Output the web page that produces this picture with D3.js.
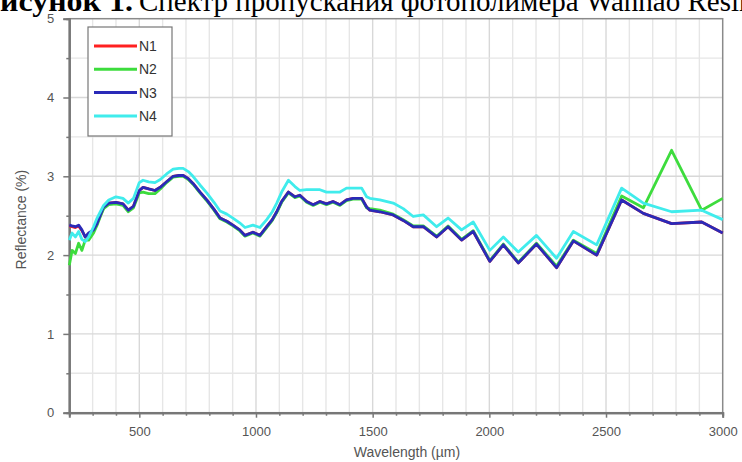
<!DOCTYPE html>
<html><head><meta charset="utf-8">
<script src="https://cdn.jsdelivr.net/npm/d3@7/dist/d3.min.js"></script>
<style>body{margin:0;background:#fff}svg{display:block}</style>
</head><body>
<svg id="c" width="742" height="462"></svg>
<script>
// ---- data ----
const wavelengths = [200,212,226,240,254,268,283,304,319,333,347,369,400,430,453,475,500,516,540,567,590,617,645,670,688,710,730,760,789,820,846,875,901,930,953,987,1017,1046,1070,1089,1110,1139,1167,1188,1217,1245,1274,1302,1330,1360,1388,1416,1453,1474,1488,1531,1588,1631,1674,1717,1774,1823,1881,1931,2002,2060,2124,2202,2288,2360,2460,2567,2660,2781,2910,3000];
const n3 = [2.38,2.37,2.36,2.38,2.32,2.23,2.28,2.32,2.40,2.51,2.61,2.66,2.67,2.65,2.57,2.62,2.82,2.86,2.84,2.82,2.86,2.93,3.00,3.01,3.01,2.97,2.91,2.80,2.70,2.58,2.47,2.43,2.38,2.32,2.25,2.29,2.25,2.36,2.45,2.55,2.68,2.80,2.74,2.76,2.68,2.64,2.68,2.65,2.68,2.64,2.70,2.72,2.72,2.61,2.57,2.55,2.51,2.44,2.36,2.36,2.23,2.36,2.19,2.30,1.92,2.13,1.90,2.14,1.84,2.18,2.00,2.70,2.53,2.40,2.42,2.28];
const n1 = [2.37,2.36,2.35,2.37,2.31,2.23,2.27,2.31,2.40,2.50,2.60,2.66,2.67,2.65,2.57,2.62,2.82,2.86,2.84,2.82,2.86,2.93,3.00,3.01,3.01,2.97,2.91,2.80,2.70,2.58,2.47,2.43,2.38,2.32,2.25,2.29,2.25,2.36,2.45,2.55,2.68,2.80,2.74,2.76,2.68,2.64,2.68,2.65,2.68,2.64,2.70,2.72,2.72,2.61,2.57,2.55,2.51,2.44,2.36,2.36,2.23,2.36,2.19,2.30,1.92,2.13,1.90,2.14,1.84,2.18,2.00,2.70,2.53,2.40,2.42,2.28];
const n2 = [1.87,2.06,2.02,2.15,2.06,2.19,2.19,2.28,2.38,2.49,2.59,2.64,2.65,2.63,2.55,2.60,2.79,2.80,2.78,2.78,2.84,2.92,2.99,3.00,3.00,2.96,2.90,2.79,2.69,2.57,2.46,2.42,2.37,2.31,2.24,2.28,2.24,2.35,2.44,2.54,2.67,2.79,2.73,2.75,2.67,2.63,2.67,2.64,2.67,2.63,2.69,2.71,2.71,2.60,2.59,2.57,2.52,2.45,2.37,2.37,2.24,2.37,2.20,2.31,1.93,2.14,1.91,2.15,1.86,2.19,2.02,2.75,2.60,3.33,2.57,2.72];
const n4 = [2.19,2.28,2.23,2.30,2.20,2.17,2.23,2.36,2.47,2.55,2.63,2.70,2.74,2.72,2.66,2.72,2.92,2.95,2.93,2.92,2.96,3.03,3.09,3.10,3.10,3.06,3.00,2.89,2.79,2.67,2.56,2.52,2.47,2.41,2.35,2.38,2.35,2.45,2.55,2.66,2.80,2.95,2.87,2.82,2.83,2.83,2.83,2.80,2.80,2.80,2.85,2.85,2.85,2.74,2.72,2.70,2.66,2.59,2.49,2.51,2.36,2.47,2.32,2.42,2.06,2.23,2.04,2.25,1.96,2.30,2.13,2.85,2.66,2.55,2.57,2.45];
const seriesNames = ["N1","N2","N3","N4"];
const seriesColors = ["#ff2020","#3ddc3d","#2a2ab8","#40ecec"];
const xTicks = [500,1000,1500,2000,2500,3000];
const yTicks = [0,1,2,3,4,5];

// ---- layout ----
const svg = d3.select("#c");
const x = d3.scaleLinear().domain([200,3000]).range([69.3,722.7]);
const y = d3.scaleLinear().domain([0,5]).range([412.7,18.7]);

// title (cropped at the top of the picture)
const serif = "Liberation Serif, Times New Roman, serif";
svg.append("text").attr("x",0).attr("y",11).attr("textLength",133).attr("lengthAdjust","spacingAndGlyphs")
  .attr("font-family",serif).attr("font-size",30).attr("font-weight","bold").attr("fill","#000").text("исунок 1.");
svg.append("text").attr("x",139).attr("y",11)
  .attr("font-family",serif).attr("font-size",29).attr("fill","#000").text("Спектр пропускания фотополимера Wanhao Resin");

// grid
const g = svg.append("g");
const minorX = d3.range(300,3000,100);
g.selectAll("line.vx").data(minorX).join("line")
  .attr("x1",d=>x(d)).attr("x2",d=>x(d)).attr("y1",y(5)).attr("y2",y(0))
  .attr("stroke",d=>d%500===0?"#d8d8d8":"#e6e6e6").attr("stroke-width",1.4);
const minorY = d3.range(0.5,5,0.5);
g.selectAll("line.hy").data(minorY).join("line")
  .attr("x1",x(200)).attr("x2",x(3000)).attr("y1",d=>y(d)).attr("y2",d=>y(d))
  .attr("stroke",d=>d%1===0?"#d8d8d8":"#e6e6e6").attr("stroke-width",1.4);

// frame
svg.append("rect").attr("x",x(200)).attr("y",y(5)).attr("width",x(3000)-x(200)).attr("height",y(0)-y(5))
  .attr("fill","none").attr("stroke","#8a8a8a").attr("stroke-width",1.5);

// axes
const fontSans = "Liberation Sans, Arial, sans-serif";
const xAxis = d3.axisBottom(x).tickValues(xTicks).tickSize(5).tickPadding(9).tickFormat(d3.format("d"));
const gx = svg.append("g").attr("transform",`translate(0,${y(0)})`).call(xAxis);
gx.selectAll(".tick text").attr("font-size",13).attr("fill","#555").attr("font-family",fontSans);
const xMinor = d3.axisBottom(x).tickValues(d3.range(300,3000,100).filter(d=>d%500!==0)).tickSize(3).tickFormat("");
svg.append("g").attr("transform",`translate(0,${y(0)})`).call(xMinor);

const yAxis = d3.axisLeft(y).tickValues(yTicks).tickSize(6).tickPadding(9).tickFormat(d3.format("d"));
const gy = svg.append("g").attr("transform",`translate(${x(200)},0)`).call(yAxis);
gy.selectAll(".tick text").attr("font-size",13).attr("fill","#555").attr("font-family",fontSans);
const yMinor = d3.axisLeft(y).tickValues(minorY.filter(d=>d%1!==0)).tickSize(3).tickFormat("");
svg.append("g").attr("transform",`translate(${x(200)},0)`).call(yMinor);
svg.selectAll(".domain").attr("stroke","#777").attr("stroke-width",2);
svg.selectAll(".tick line").attr("stroke","#777").attr("stroke-width",1.5);

svg.append("text").attr("x",407).attr("y",457).attr("text-anchor","middle")
  .attr("font-family",fontSans).attr("font-size",14).attr("fill","#555").text("Wavelength (µm)");
svg.append("text").attr("transform",`translate(26,${y(2.45)}) rotate(-90)`).attr("text-anchor","middle")
  .attr("font-family",fontSans).attr("font-size",14).attr("fill","#555").text("Reflectance (%)");

// lines
const allSeries = [n1,n2,n3,n4];
const line = d3.line().x((d,i)=>x(wavelengths[i])).y(d=>y(d));
svg.append("g").selectAll("path").data(allSeries).join("path")
  .attr("d",d=>line(d)).attr("fill","none")
  .attr("stroke",(d,i)=>seriesColors[i]).attr("stroke-width",2.8).attr("stroke-linejoin","round");

// legend
const lg = svg.append("g");
lg.append("rect").attr("x",88).attr("y",27).attr("width",84).attr("height",109)
  .attr("fill","#fff").attr("stroke","#777").attr("stroke-width",1.2);
seriesNames.forEach((n,i)=>{
  const yy = 46 + i*23.3;
  lg.append("line").attr("x1",94).attr("x2",137).attr("y1",yy).attr("y2",yy)
    .attr("stroke",seriesColors[i]).attr("stroke-width",3);
  lg.append("text").attr("x",139).attr("y",yy+5).attr("font-family",fontSans)
    .attr("font-size",14).attr("fill","#333").text(n);
});
</script>
</body></html>
